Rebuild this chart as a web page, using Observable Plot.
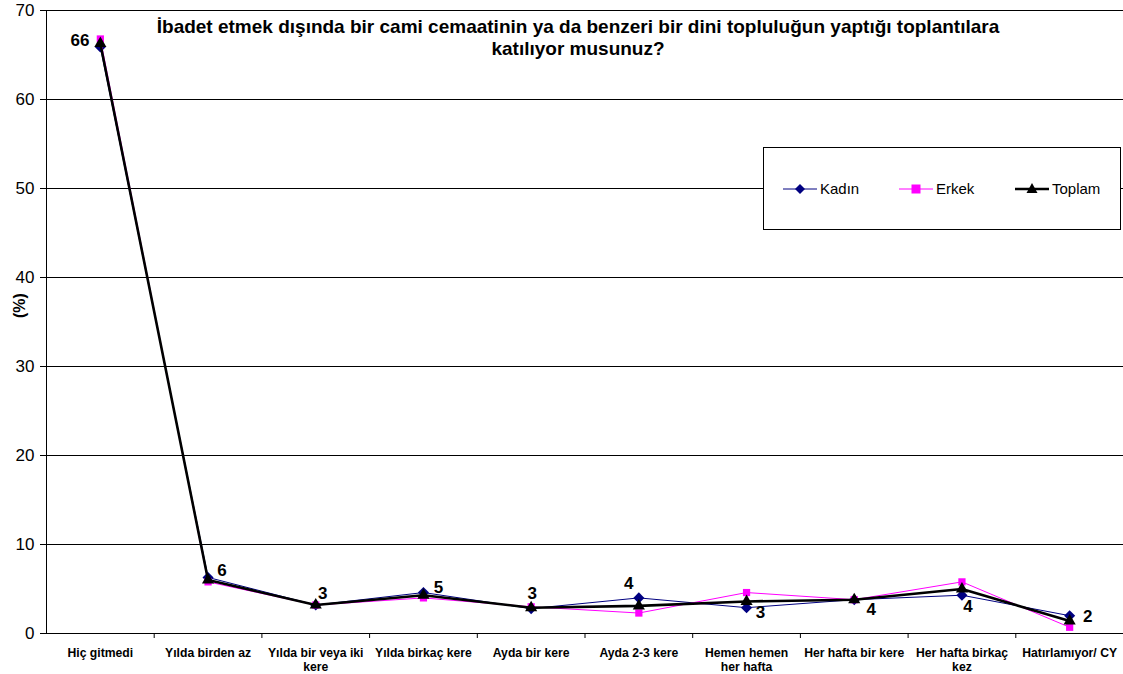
<!DOCTYPE html>
<html>
<head>
<meta charset="utf-8">
<script src="https://cdn.jsdelivr.net/npm/d3@7"></script>
<script src="https://cdn.jsdelivr.net/npm/@observablehq/plot@0.6"></script>
<style>
  body { margin: 0; background: #fff; }
  #chart svg { font-family: Arial, "Liberation Sans", sans-serif; }
</style>
</head>
<body>
<div id="chart"></div>
<script>
const title = "İbadet etmek dışında bir cami cemaatinin ya da benzeri bir dini topluluğun yaptığı toplantılara\nkatılıyor musunuz?";
const categories = ["Hiç gitmedi","Yılda birden az","Yılda bir veya iki kere","Yılda birkaç kere","Ayda bir kere","Ayda 2-3 kere","Hemen hemen her hafta","Her hafta bir kere","Her hafta birkaç kez","Hatırlamıyor/ CY"];
const tickLabels = ["Hiç gitmedi","Yılda birden az","Yılda bir veya iki\nkere","Yılda birkaç kere","Ayda bir kere","Ayda 2-3 kere","Hemen hemen\nher hafta","Her hafta bir kere","Her hafta birkaç\nkez","Hatırlamıyor/ CY"];
const kadin  = [65.9, 6.3, 3.2, 4.6, 2.8, 4.0, 2.9, 3.8, 4.3, 2.0];
const erkek  = [66.8, 5.8, 3.2, 4.0, 3.0, 2.3, 4.6, 3.8, 5.8, 0.7];
const toplam = [66.3, 6.0, 3.2, 4.3, 2.9, 3.1, 3.6, 3.8, 5.0, 1.4];
const valueLabels = ["66","6","3","5","3","4","3","4","4","2"];
const yTicks = [0, 10, 20, 30, 40, 50, 60, 70];
const seriesNames = ["Kadın", "Erkek", "Toplam"];

// label placement (style, pixels) for each value label
const labelPlacement = [
  {anchor: "end", dx: -11, dy: -6},
  {anchor: "middle", dx: 14, dy: -7},
  {anchor: "middle", dx: 7, dy: -11},
  {anchor: "middle", dx: 15, dy: -5},
  {anchor: "middle", dx: 1, dy: -15},
  {anchor: "middle", dx: -10, dy: -14},
  {anchor: "middle", dx: 14, dy: 5},
  {anchor: "middle", dx: 17, dy: 10},
  {anchor: "middle", dx: 6, dy: 11},
  {anchor: "middle", dx: 18, dy: 1}
];

const styles = {
  "Kadın":  {color: "#000080", width: 1,   symbol: "diamond2", r: 5},
  "Erkek":  {color: "#ff00ff", width: 1,   symbol: "square2",  r: 4.6},
  "Toplam": {color: "#000000", width: 2.6, symbol: "triangle2", r: 5.8}
};

const seriesValues = {"Kadın": kadin, "Erkek": erkek, "Toplam": toplam};
const rows = seriesNames.flatMap(s => categories.map((c, i) => ({series: s, cat: c, idx: i, value: seriesValues[s][i]})));

const marks = [
  Plot.gridY({ticks: yTicks.slice(1), stroke: "black", strokeOpacity: 1, strokeWidth: 1}),
  Plot.ruleY([0], {stroke: "black"}),
  Plot.ruleX([-0.5], {stroke: "black"}),
  Plot.axisY({ticks: yTicks, tickSize: 6, tickPadding: 6, fontSize: 17, label: null, stroke: "black"}),
  Plot.axisX({ticks: d3.range(0.5, 10, 1), tickSize: 5, tickFormat: () => "", label: null, stroke: "black"}),
  Plot.axisX({ticks: d3.range(0, 10), tickSize: 0, tickPadding: 13, tickFormat: i => tickLabels[i],
              fontSize: 12.2, fontWeight: "bold", lineHeight: 1.18, label: null}),
  Plot.text([title], {frameAnchor: "top", lineAnchor: "top", dy: 6, dx: -7, fontSize: 19, fontWeight: "bold", lineHeight: 1.2}),
  Plot.text(["(%)"], {frameAnchor: "left", rotate: -90, dx: -27, dy: -4, fontSize: 16, fontWeight: "bold"})
];

for (const s of seriesNames) {
  const st = styles[s];
  const d = rows.filter(r => r.series === s);
  marks.push(Plot.line(d, {x: "idx", y: "value", stroke: st.color, strokeWidth: st.width}));
  marks.push(Plot.dot(d, {x: "idx", y: "value", symbol: st.symbol, r: st.r, fill: st.color, stroke: "none"}));
}

const kRows = rows.filter(r => r.series === "Kadın");
kRows.forEach((r, i) => {
  const p = labelPlacement[i];
  marks.push(Plot.text([r], {x: "idx", y: "value", text: () => valueLabels[i], textAnchor: p.anchor,
    dx: p.dx, dy: p.dy, fontSize: 17, fontWeight: "bold", fill: "black"}));
});

const chart = Plot.plot({
  width: 1123,
  height: 674,
  marginLeft: 46,
  marginRight: 0,
  marginTop: 10,
  marginBottom: 41,
  style: {background: "#fff", color: "black", overflow: "visible"},
  x: {type: "linear", domain: [-0.5, 9.5]},
  y: {domain: [0, 70]},
  marks
});

// legend box inside the SVG
const svg = d3.select(chart);
const lg = svg.append("g").attr("font-family", "Arial, 'Liberation Sans', sans-serif").attr("text-anchor", "start");
lg.append("rect").attr("x", 763.5).attr("y", 147.5).attr("width", 357).attr("height", 82)
  .attr("fill", "white").attr("stroke", "black").attr("stroke-width", 1);
const legendX = [783, 899, 1015];
const symbolPaths = {
  "Kadın": "M0,-5L5,0L0,5L-5,0Z",
  "Erkek": "M-4.5,-4.5H4.5V4.5H-4.5Z",
  "Toplam": "M0,-6L5.5,4H-5.5Z"
};
seriesNames.forEach((s, i) => {
  const st = styles[s];
  const x0 = legendX[i], y0 = 189;
  lg.append("line").attr("x1", x0).attr("x2", x0 + 34).attr("y1", y0).attr("y2", y0)
    .attr("stroke", st.color).attr("stroke-width", st.width);
  lg.append("path").attr("d", symbolPaths[s]).attr("transform", `translate(${x0 + 17},${y0})`).attr("fill", st.color);
  lg.append("text").attr("x", x0 + 37).attr("y", y0).attr("dy", "0.35em").attr("font-size", 15)
    .attr("text-anchor", "start").attr("fill", "black").text(s);
});

document.getElementById("chart").append(chart);
</script>
</body>
</html>
